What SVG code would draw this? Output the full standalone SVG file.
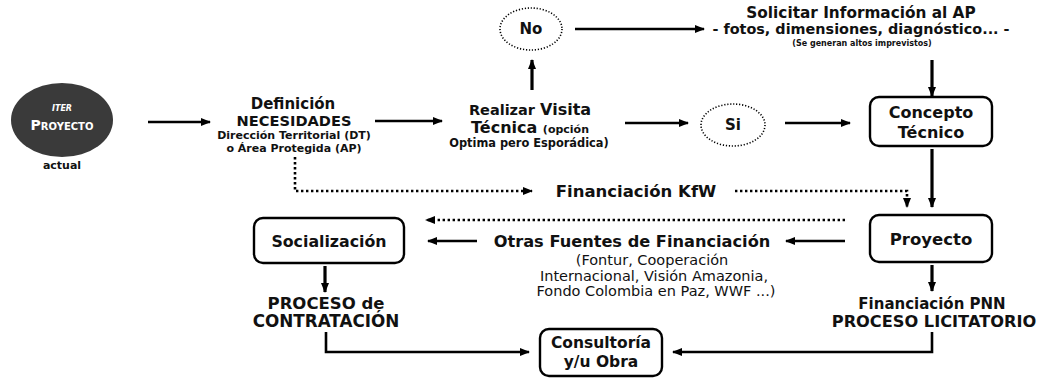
<svg xmlns="http://www.w3.org/2000/svg" width="1040" height="379" viewBox="0 0 1040 379">
<defs>
<marker id="ah" viewBox="0 0 10 8" refX="9" refY="4" markerWidth="10" markerHeight="8" markerUnits="userSpaceOnUse" orient="auto">
<path d="M0,0 L10,4 L0,8 z" fill="#000"/>
</marker>
<style>
text{font-family:"DejaVu Sans","Liberation Sans",sans-serif;font-weight:bold;fill:#111;text-anchor:middle}
.reg{font-weight:normal}
.ln{fill:none;stroke:#000;stroke-width:2.6;marker-end:url(#ah)}
.lnv{fill:none;stroke:#000;stroke-width:3.2;marker-end:url(#ah)}
.dt{fill:none;stroke:#000;stroke-width:2.6;stroke-dasharray:2.4 2.6;marker-end:url(#ah)}
.box{fill:#fff;stroke:#000;stroke-width:2.4}
.dc{fill:#fff;stroke:#000;stroke-width:1.6;stroke-dasharray:1.2 1.8}
</style>
</defs>
<rect width="1040" height="379" fill="#fff"/>

<g id="connectors">
<line class="ln" x1="148" y1="122" x2="210" y2="122"/>
<line class="ln" x1="375" y1="121" x2="442" y2="121"/>
<line class="lnv" x1="532" y1="90" x2="532" y2="60"/>
<line class="ln" x1="575" y1="29" x2="704" y2="29"/>
<line class="lnv" x1="932" y1="60" x2="932" y2="96"/>
<line class="ln" x1="625" y1="123" x2="688" y2="123"/>
<line class="ln" x1="785" y1="123" x2="850" y2="123"/>
<line class="lnv" x1="932" y1="149" x2="932" y2="207"/>
<path class="dt" d="M295,157 V191 H532"/>
<path class="dt" d="M735,191 H907 V207"/>
<line class="dt" x1="845" y1="220" x2="426" y2="220"/>
<line class="ln" x1="845" y1="241" x2="786" y2="241"/>
<line class="ln" x1="477" y1="241" x2="428" y2="241"/>
<line class="lnv" x1="325" y1="266" x2="325" y2="292"/>
<line class="lnv" x1="932" y1="265" x2="932" y2="291"/>
<path class="ln" d="M326,332 V352 H529"/>
<path class="ln" d="M932,332 V352 H673"/>
</g>

<g id="iter">
<ellipse cx="62" cy="120" rx="51" ry="37" fill="#3a3a3a"/>
<text x="62" y="111" style="font-size:8px;font-style:italic;fill:#fff">ITER</text>
<text x="62" y="130" style="fill:#fff;font-size:10px"><tspan style="font-size:14px">P</tspan>ROYECTO</text>
<text x="62" y="169" style="font-size:11px">actual</text>
</g>

<g id="definicion">
<text x="293" y="109" style="font-size:15px">Definición</text>
<text x="294" y="126" style="font-size:14.6px">NECESIDADES</text>
<text x="294" y="139" style="font-size:11px">Dirección Territorial (DT)</text>
<text x="294" y="152" style="font-size:11px">o Área Protegida (AP)</text>
</g>

<g id="visita">
<text x="530" y="115"><tspan style="font-size:14.5px">Realizar </tspan><tspan style="font-size:16px">Visita</tspan></text>
<text x="530" y="133"><tspan style="font-size:16px">Técnica </tspan><tspan style="font-size:11px">(opción</tspan></text>
<text x="529" y="147" style="font-size:11.4px">Optima pero Esporádica)</text>
</g>

<g id="no">
<ellipse class="dc" cx="531" cy="29" rx="31" ry="21"/>
<text x="531" y="34" style="font-size:15px">No</text>
</g>

<g id="solicitar">
<text x="861" y="18" style="font-size:15.3px">Solicitar Información al AP</text>
<text x="861" y="34" style="font-size:14.4px">- fotos, dimensiones, diagnóstico... -</text>
<text x="862" y="46" style="font-size:8px">(Se generan altos imprevistos)</text>
</g>

<g id="si">
<ellipse class="dc" cx="733" cy="125" rx="32" ry="21"/>
<text x="733" y="130" style="font-size:15px">Si</text>
</g>

<g id="concepto">
<rect class="box" x="870" y="97" width="122" height="49" rx="9"/>
<text x="931" y="118" style="font-size:16px">Concepto</text>
<text x="931" y="138" style="font-size:16px">Técnico</text>
</g>

<g id="kfw">
<text x="636" y="197" style="font-size:16.5px">Financiación KfW</text>
</g>

<g id="proyecto">
<rect class="box" x="870" y="215" width="122" height="47" rx="9"/>
<text x="931" y="245" style="font-size:16.5px">Proyecto</text>
</g>

<g id="otras">
<text x="632" y="247" style="font-size:16.2px">Otras Fuentes de Financiación</text>
<text x="652" y="265" class="reg" style="font-size:14.5px">(Fontur, Cooperación</text>
<text x="654" y="281" class="reg" style="font-size:14.5px">Internacional, Visión Amazonia,</text>
<text x="656" y="296" class="reg" style="font-size:14.5px">Fondo Colombia en Paz, WWF ...)</text>
</g>

<g id="socializacion">
<rect class="box" x="254" y="218" width="150" height="45" rx="9"/>
<text x="329" y="247" style="font-size:15.8px">Socialización</text>
</g>

<g id="contratacion">
<text x="326" y="309" style="font-size:16.5px">PROCESO de</text>
<text x="326" y="327" style="font-size:16.8px">CONTRATACIÓN</text>
</g>

<g id="pnn">
<text x="932" y="309" style="font-size:15px">Financiación PNN</text>
<text x="934" y="327" style="font-size:16.2px">PROCESO LICITATORIO</text>
</g>

<g id="consultoria">
<rect class="box" x="540" y="329" width="122" height="47" rx="9"/>
<text x="601" y="348" style="font-size:15.5px">Consultoría</text>
<text x="601" y="367" style="font-size:15.5px">y/u Obra</text>
</g>
</svg>
